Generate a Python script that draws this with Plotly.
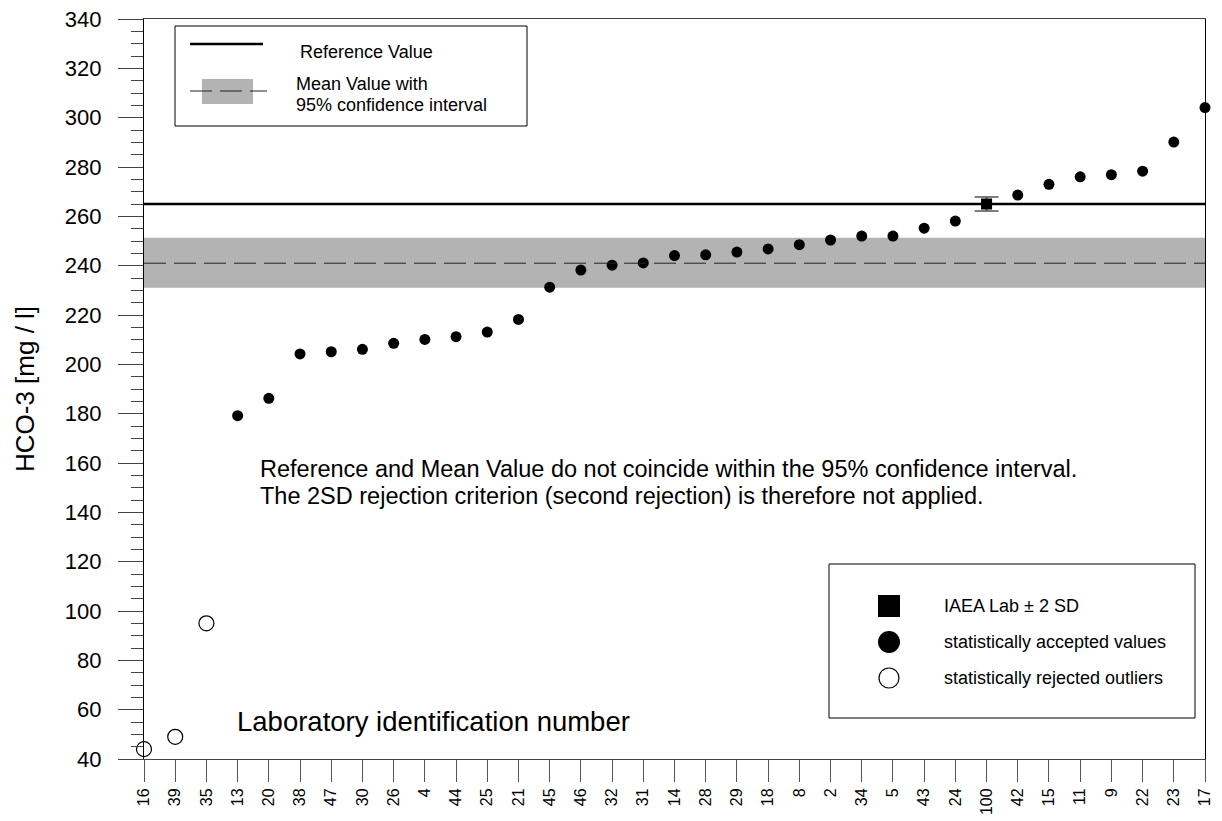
import plotly.graph_objects as go

# Laboratory codes in ranked order and reported HCO-3 concentrations (mg/l)
labs = ["16", "39", "35", "13", "20", "38", "47", "30", "26", "4", "44", "25",
        "21", "45", "46", "32", "31", "14", "28", "29", "18", "8", "2", "34",
        "5", "43", "24", "100", "42", "15", "11", "9", "22", "23", "17"]
values = [44, 49, 95, 179.2, 186.2, 204.2, 205.1, 206.1, 208.5, 210.1, 211.2,
          213.1, 218.2, 231.3, 238.2, 240.2, 241.1, 244.1, 244.4, 245.5, 246.8,
          248.5, 250.4, 252.0, 252.0, 255.2, 258.1, 265.0, 268.6, 273.0, 276.0,
          276.9, 278.3, 290.1, 304.1]
rejected_labs = ["16", "39", "35"]
iaea_lab = "100"
iaea_2sd = 2.8

reference_value = 265.0
mean_value = 241.0
ci_low = 231.0
ci_high = 251.3

W, H = 1222, 821
L, R, T, B = 144, 17, 19, 62
PW, PH = W - L - R, H - T - B


def px(x):
    return (x - L) / PW


def py(y):
    return (H - B - y) / PH


idx = list(range(len(labs)))
acc_x = [i for i, lab in enumerate(labs) if lab not in rejected_labs and lab != iaea_lab]
acc_y = [values[i] for i in acc_x]
rej_x = [i for i, lab in enumerate(labs) if lab in rejected_labs]
rej_y = [values[i] for i in rej_x]
iaea_x = [labs.index(iaea_lab)]
iaea_y = [values[iaea_x[0]]]

fig = go.Figure()

# confidence band of the mean and the mean/reference lines
fig.add_shape(type="rect", xref="x", yref="y", x0=0, x1=len(labs) - 1,
              y0=ci_low, y1=ci_high, fillcolor="#b3b3b3", line_width=0, layer="below")
fig.add_shape(type="line", xref="x", yref="y", x0=0, x1=len(labs) - 1,
              y0=mean_value, y1=mean_value,
              line=dict(color="#222", width=1, dash="22px,8px"))
fig.add_shape(type="line", xref="x", yref="y", x0=0, x1=len(labs) - 1,
              y0=reference_value, y1=reference_value,
              line=dict(color="black", width=2.5))

fig.add_trace(go.Scatter(x=acc_x, y=acc_y, mode="markers", cliponaxis=False,
                         marker=dict(symbol="circle", size=11, color="black"),
                         showlegend=False))
fig.add_trace(go.Scatter(x=rej_x, y=rej_y, mode="markers", cliponaxis=False,
                         marker=dict(symbol="circle", size=15, color="white",
                                     line=dict(color="black", width=1.2)),
                         showlegend=False))
fig.add_trace(go.Scatter(x=iaea_x, y=iaea_y, mode="markers", cliponaxis=False,
                         marker=dict(symbol="square", size=11, color="black"),
                         error_y=dict(type="constant", value=iaea_2sd, color="#555",
                                      thickness=1.5, width=12),
                         showlegend=False))

# upper legend box: reference value and mean with confidence interval
fig.add_shape(type="rect", xref="paper", yref="paper", x0=px(175), x1=px(527),
              y0=py(126), y1=py(26), line=dict(color="black", width=1),
              fillcolor="white")
fig.add_shape(type="line", xref="paper", yref="paper", x0=px(190), x1=px(263),
              y0=py(44), y1=py(44), line=dict(color="black", width=2.5))
fig.add_shape(type="rect", xref="paper", yref="paper", x0=px(202), x1=px(253),
              y0=py(104), y1=py(79), fillcolor="#b3b3b3", line_width=0)
fig.add_shape(type="line", xref="paper", yref="paper", x0=px(190), x1=px(267),
              y0=py(91), y1=py(91), line=dict(color="#222", width=1, dash="22px,8px"))

# lower legend box: marker meanings
fig.add_shape(type="rect", xref="paper", yref="paper", x0=px(829), x1=px(1195),
              y0=py(718), y1=py(564), line=dict(color="black", width=1),
              fillcolor="white")
fig.add_shape(type="rect", xref="paper", yref="paper", x0=px(878), x1=px(900),
              y0=py(617), y1=py(595), fillcolor="black", line_width=0)
fig.add_shape(type="circle", xref="paper", yref="paper", x0=px(878), x1=px(900),
              y0=py(653), y1=py(631), fillcolor="black", line_width=0)
fig.add_shape(type="circle", xref="paper", yref="paper", x0=px(879), x1=px(899),
              y0=py(688), y1=py(668), fillcolor="white",
              line=dict(color="black", width=1.2))

font = "Liberation Sans, Arial, sans-serif"


def label(text, x, y, size, anchor="left"):
    fig.add_annotation(text=text, xref="paper", yref="paper", x=px(x), y=py(y),
                       xanchor=anchor, yanchor="middle", showarrow=False, align="left",
                       font=dict(family=font, size=size, color="black"))


label("Reference Value", 298, 52, 18)
label("Mean Value with", 294, 84, 18)
label("95% confidence interval", 294, 105, 18)
label("IAEA Lab \u00b1 2 SD", 942, 606, 18)
label("statistically accepted values", 942, 642, 18)
label("statistically rejected outliers", 942, 678, 18)
label("Reference and Mean Value do not coincide within the 95% confidence interval.",
      258, 469, 23.5)
label("The 2SD rejection criterion (second rejection) is therefore not applied.",
      258, 496, 23.5)
label("Laboratory identification number", 235, 721, 27.5)

fig.update_layout(
    width=W, height=H,
    margin=dict(l=L, r=R, t=T, b=B, pad=0, autoexpand=False),
    paper_bgcolor="white", plot_bgcolor="white",
    font=dict(family=font, color="black"),
    showlegend=False,
)
fig.update_xaxes(
    range=[0, len(labs) - 1], tickmode="array", tickvals=idx, ticktext=labs,
    tickangle=-90, ticks="outside", ticklen=22, tickcolor="#555", tickwidth=1,
    tickfont=dict(size=16), ticklabelstandoff=0, showgrid=False, zeroline=False,
    showline=True, linecolor="#444", linewidth=1, mirror=True, automargin=False,
)
fig.update_yaxes(
    range=[40, 340], tickmode="linear", tick0=40, dtick=20,
    ticks="outside", ticklen=25, tickcolor="#444", tickwidth=1,
    minor=dict(dtick=5, ticks="outside", ticklen=12, tickcolor="#444", tickwidth=1),
    tickfont=dict(size=22), ticklabelstandoff=12,
    showgrid=False, zeroline=False, automargin=False,
    showline=True, linecolor="black", linewidth=1.2, mirror=True,
    title=dict(text="HCO-3 [mg / l]", font=dict(size=26), standoff=22),
)

fig.write_html("out.html")
